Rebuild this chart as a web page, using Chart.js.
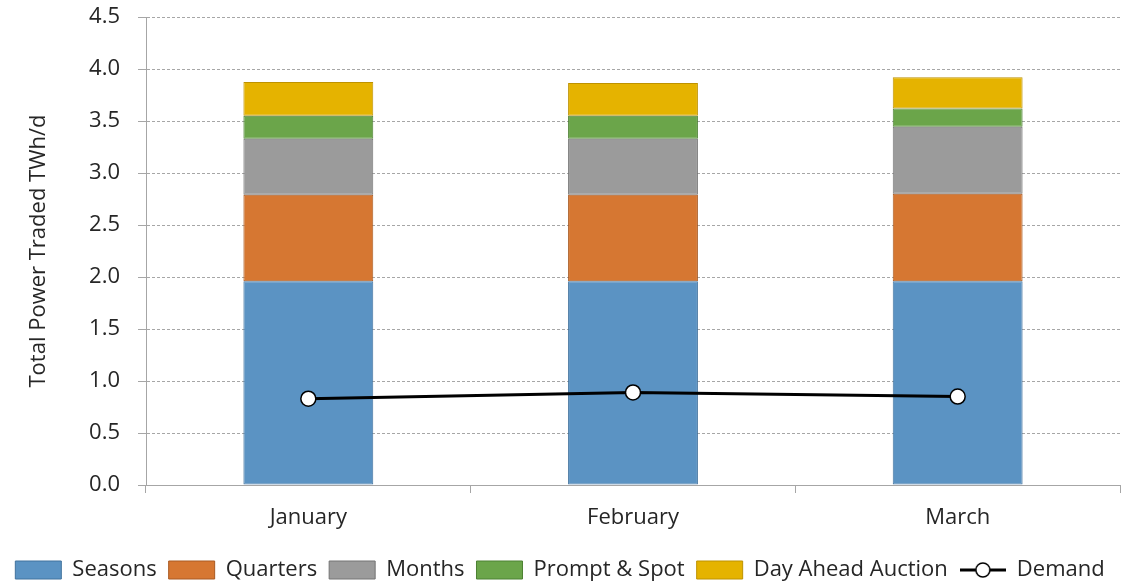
<!DOCTYPE html>
<html>
<head>
<meta charset="utf-8">
<script src="https://cdn.jsdelivr.net/npm/chart.js@4.4.1/dist/chart.umd.min.js"></script>
<style>
  html, body { margin: 0; padding: 0; background: #fff; }
  #wrap { width: 1147px; height: 587px; }
</style>
</head>
<body>
<div id="wrap"><canvas id="powerChart"></canvas></div>
<script>
// Chart data
const months = ['January', 'February', 'March'];
const seasons = [1.96, 1.96, 1.96];
const quarters = [0.83, 0.83, 0.84];
const monthProducts = [0.54, 0.54, 0.645];
const promptSpot = [0.22, 0.22, 0.175];
const dayAhead = [0.325, 0.315, 0.30];
const demand = [0.83, 0.89, 0.85];

const FONT = "'Open Sans', sans-serif";
Chart.defaults.font.family = FONT;
Chart.defaults.color = '#262626';

// legend icon for the demand line (line with open circle)
function demandIcon() {
    const c = document.createElement('canvas');
    c.width = 46;
    c.height = 20;
    const g = c.getContext('2d');
    g.strokeStyle = '#000';
    g.lineWidth = 3;
    g.beginPath();
    g.moveTo(0, 10);
    g.lineTo(46, 10);
    g.stroke();
    g.fillStyle = '#fff';
    g.lineWidth = 1.5;
    g.beginPath();
    g.arc(23, 10, 7, 0, Math.PI * 2);
    g.fill();
    g.stroke();
    return c;
}

function barSet(label, data, fill, edge) {
    return {
        type: 'bar',
        label: label,
        data: data,
        backgroundColor: fill,
        borderColor: edge,
        borderWidth: 1,
        borderSkipped: false,
        stack: 'traded',
        order: 1,
        barPercentage: 0.4,
        categoryPercentage: 1.0
    };
}

const ctx = document.getElementById('powerChart').getContext('2d');
const icon = demandIcon();

new Chart(ctx, {
    data: {
        labels: months,
        datasets: [
            barSet('Seasons', seasons, '#5B93C3', '#41729E'),
            barSet('Quarters', quarters, '#D67732', '#A95A22'),
            barSet('Months', monthProducts, '#9B9B9B', '#747474'),
            barSet('Prompt & Spot', promptSpot, '#6BA54A', '#4D8133'),
            barSet('Day Ahead Auction', dayAhead, '#E5B300', '#BE9200'),
            {
                type: 'line',
                label: 'Demand',
                data: demand,
                borderColor: '#000',
                borderWidth: 3,
                pointRadius: 7.5,
                pointBorderWidth: 1.5,
                pointBackgroundColor: '#fff',
                pointBorderColor: '#000',
                tension: 0,
                stack: 'demand',
                order: 0
            }
        ]
    },
    options: {
        responsive: true,
        maintainAspectRatio: false,
        animation: false,
        layout: {
            padding: { top: 17, right: 27, left: 0, bottom: -4 }
        },
        plugins: {
            tooltip: { enabled: false },
            legend: {
                position: 'bottom',
                labels: {
                    usePointStyle: true,
                    pointStyleWidth: 46,
                    boxHeight: 18,
                    padding: 12,
                    color: '#262626',
                    font: { size: 22 },
                    sort: (a, b) => a.datasetIndex - b.datasetIndex,
                    generateLabels: chart => {
                        const items = Chart.defaults.plugins.legend.labels.generateLabels(chart);
                        items.forEach(item => {
                            item.pointStyle = item.text === 'Demand' ? icon : 'rect';
                            item.lineWidth = 1;
                        });
                        return items;
                    }
                }
            }
        },
        scales: {
            x: {
                stacked: true,
                grid: {
                    offset: true,
                    drawOnChartArea: false,
                    drawTicks: true,
                    tickLength: 8,
                    color: '#A6A6A6'
                },
                border: { color: '#A6A6A6' },
                ticks: {
                    padding: 12,
                    font: { size: 22 },
                    color: '#262626'
                },
                afterFit: scale => { scale.height = 62; }
            },
            y: {
                stacked: true,
                min: 0,
                max: 4.5,
                ticks: {
                    stepSize: 0.5,
                    padding: 18,
                    font: { size: 22 },
                    color: '#262626',
                    callback: value => value.toFixed(1)
                },
                grid: {
                    color: '#A6A6A6',
                    tickColor: '#A6A6A6',
                    tickLength: 8,
                    tickBorderDash: []
                },
                border: { color: '#A6A6A6', dash: [3, 2] },
                title: {
                    display: true,
                    text: 'Total Power Traded TWh/d',
                    font: { size: 22 },
                    color: '#262626',
                    padding: { top: 26, bottom: 0 }
                },
                afterFit: scale => {
                    scale.width = 146;
                    scale.paddingTop = 0;
                    scale.paddingBottom = 0;
                }
            }
        }
    }
});
</script>
</body>
</html>
